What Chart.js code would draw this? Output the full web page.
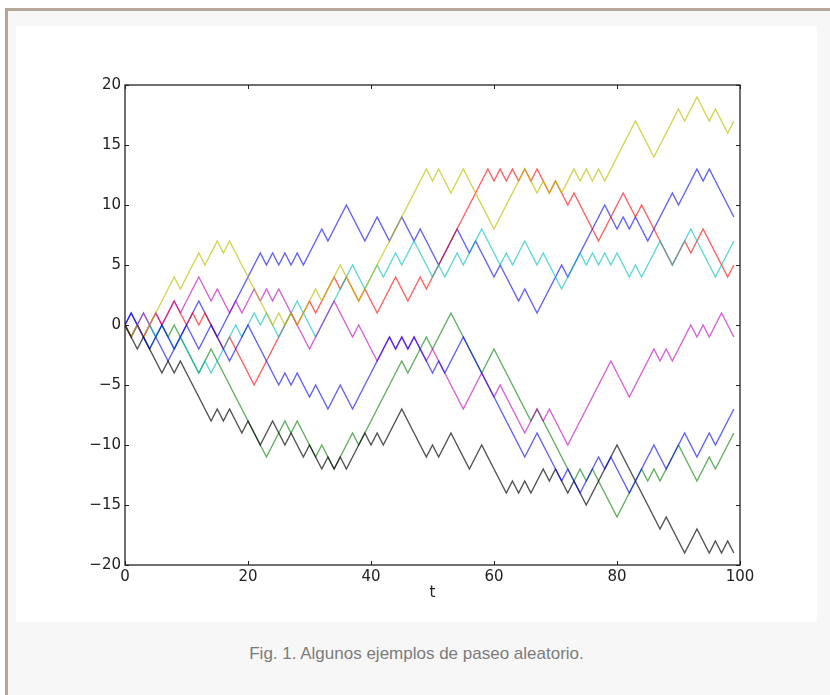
<!DOCTYPE html>
<html>
<head>
<meta charset="utf-8">
<script src="https://cdn.jsdelivr.net/npm/chart.js@4/dist/chart.umd.min.js"></script>
<style>
  html, body { margin: 0; padding: 0; background: #fff; }
  body { width: 830px; height: 695px; position: relative; overflow: hidden; }
  .frame {
    position: absolute; left: 5px; top: 8px; width: 840px; height: 700px;
    border-left: 3px solid #b4a798; border-top: 3px solid #b4a798;
    background: #f7f7f7;
  }
  .panel { position: absolute; left: 16px; top: 26px; width: 801px; height: 596px; background: #fff; }
  .caption {
    position: absolute; left: 16px; width: 801px; top: 644px;
    text-align: center; font: 17px "Liberation Sans", Arial, sans-serif; color: #7b7b7b;
  }
</style>
</head>
<body>
<div class="frame"></div>
<div class="panel"><canvas id="walks" width="801" height="596"></canvas></div>
<div class="caption">Fig. 1. Algunos ejemplos de paseo aleatorio.</div>
<script>
'use strict';

// time steps 0..99
const tValues = Array.from({ length: 100 }, (_, i) => i);

// walks (matplotlib colour cycle b g r c m y k b)
const walkBlue = [
  0,1,0,-1,0,-1,-2,-3,-2,-1, 0,1,2,1,0,-1,0,1,2,3,
  4,5,6,5,6,5,6,5,6,5, 6,7,8,7,8,9,10,9,8,7,
  8,9,8,7,8,9,8,7,8,7, 6,5,6,7,8,7,6,7,6,5,
  4,5,4,3,2,3,2,1,2,3, 4,5,4,5,6,7,8,9,10,9,
  8,9,8,9,8,7,8,9,10,11, 10,11,12,13,12,13,12,11,10,9];
const walkGreen = [
  0,-1,0,-1,-2,-1,0,-1,0,-1, -2,-3,-4,-3,-2,-3,-4,-5,-6,-7,
  -8,-9,-10,-11,-10,-9,-8,-9,-8,-9, -10,-11,-10,-11,-12,-11,-10,-9,-10,-9,
  -8,-7,-6,-5,-4,-3,-4,-3,-2,-1, -2,-1,0,1,0,-1,-2,-3,-4,-3,
  -2,-3,-4,-5,-6,-7,-8,-7,-8,-9, -10,-11,-12,-13,-12,-13,-12,-13,-14,-15,
  -16,-15,-14,-13,-12,-13,-12,-13,-12,-11, -10,-11,-12,-13,-12,-11,-12,-11,-10,-9];
const walkRed = [
  0,-1,0,-1,0,1,0,1,2,1, 0,1,0,1,0,-1,-2,-1,-2,-3,
  -4,-5,-4,-3,-2,-1,0,1,0,1, 2,1,2,3,4,3,4,3,2,3,
  2,1,2,3,4,3,2,3,4,3, 4,5,6,7,8,9,10,11,12,13,
  12,13,12,13,12,13,12,13,12,11, 12,11,10,11,10,9,8,7,8,9,
  10,11,10,9,10,9,8,7,6,5, 6,7,6,7,8,7,6,5,4,5];
const walkCyan = [
  0,-1,0,1,0,-1,0,-1,-2,-1, -2,-3,-4,-3,-4,-3,-2,-1,0,-1,
  0,1,0,1,0,-1,0,1,2,1, 0,-1,0,1,2,3,4,5,4,3,
  4,5,4,5,6,5,6,7,6,5, 4,5,4,5,6,5,6,7,8,7,
  6,5,6,5,6,7,6,5,6,5, 4,3,4,5,6,5,6,5,6,5,
  6,5,4,5,4,5,6,7,6,5, 6,7,8,7,6,5,4,5,6,7];
const walkMagenta = [
  0,-1,0,1,0,1,0,1,2,1, 2,3,4,3,2,3,2,1,2,1,
  2,3,2,3,2,3,2,1,0,-1, -2,-1,0,1,2,1,0,-1,0,-1,
  -2,-3,-2,-1,-2,-1,-2,-1,-2,-3, -2,-3,-4,-5,-6,-7,-6,-5,-4,-5,
  -6,-5,-6,-7,-8,-9,-8,-7,-8,-7, -8,-9,-10,-9,-8,-7,-6,-5,-4,-3,
  -4,-5,-6,-5,-4,-3,-2,-3,-2,-3, -2,-1,0,-1,0,-1,0,1,0,-1];
const walkYellow = [
  0,-1,0,-1,0,1,2,3,4,3, 4,5,6,5,6,7,6,7,6,5,
  4,3,2,1,0,1,0,1,0,1, 2,3,2,3,4,5,4,3,2,3,
  4,5,6,7,8,9,10,11,12,13, 12,13,12,11,12,13,12,11,10,9,
  8,9,10,11,12,13,12,11,12,11, 12,11,12,13,12,13,12,13,12,13,
  14,15,16,17,16,15,14,15,16,17, 18,17,18,19,18,17,18,17,16,17];
const walkBlack = [
  0,-1,-2,-1,-2,-3,-4,-3,-4,-3, -4,-5,-6,-7,-8,-7,-8,-7,-8,-9,
  -8,-9,-10,-9,-8,-9,-10,-9,-10,-11, -10,-11,-12,-11,-12,-11,-12,-11,-10,-9,
  -10,-9,-10,-9,-8,-7,-8,-9,-10,-11, -10,-11,-10,-9,-10,-11,-12,-11,-10,-11,
  -12,-13,-14,-13,-14,-13,-14,-13,-12,-13, -12,-13,-14,-13,-14,-15,-14,-13,-12,-11,
  -10,-11,-12,-13,-14,-15,-16,-17,-16,-17, -18,-19,-18,-17,-18,-19,-18,-19,-18,-19];
const walkBlue2 = [
  0,1,0,-1,-2,-1,0,-1,-2,-1, 0,-1,-2,-1,0,-1,-2,-3,-2,-1,
  0,-1,-2,-3,-4,-5,-4,-5,-4,-5, -6,-5,-6,-7,-6,-5,-6,-7,-6,-5,
  -4,-3,-2,-1,-2,-1,-2,-1,-2,-3, -4,-3,-4,-3,-2,-1,-2,-3,-4,-5,
  -6,-7,-8,-9,-10,-11,-10,-9,-10,-11, -12,-13,-12,-13,-14,-13,-12,-11,-12,-11,
  -12,-13,-14,-13,-12,-11,-10,-11,-12,-11, -10,-9,-10,-11,-10,-9,-10,-9,-8,-7];

const walks = [walkBlue, walkGreen, walkRed, walkCyan, walkMagenta, walkYellow, walkBlack, walkBlue2];
const walkColors = [
  'rgba(0,0,255,0.62)', 'rgba(0,128,0,0.62)', 'rgba(255,0,0,0.62)', 'rgba(0,191,191,0.62)',
  'rgba(191,0,191,0.62)', 'rgba(191,191,0,0.68)', 'rgba(0,0,0,0.68)', 'rgba(0,0,255,0.62)'];

const yTicks = [-20, -15, -10, -5, 0, 5, 10, 15, 20];
const xTicks = [0, 20, 40, 60, 80, 100];

const tickFont = { family: 'DejaVu Sans', size: 15 };

// matplotlib-style box with inward ticks on all four sides
const axesBox = {
  id: 'axesBox',
  afterDraw(chart) {
    const { ctx, chartArea: a, scales: { x, y } } = chart;
    ctx.save();
    ctx.strokeStyle = '#222';
    ctx.lineWidth = 1.3;
    ctx.strokeRect(a.left, a.top, a.right - a.left, a.bottom - a.top);
    ctx.lineWidth = 1;
    ctx.beginPath();
    xTicks.forEach(v => {
      const px = Math.round(x.getPixelForValue(v)) + 0.5;
      ctx.moveTo(px, a.bottom); ctx.lineTo(px, a.bottom - 4);
      ctx.moveTo(px, a.top); ctx.lineTo(px, a.top + 4);
    });
    yTicks.forEach(v => {
      const py = Math.round(y.getPixelForValue(v)) + 0.5;
      ctx.moveTo(a.left, py); ctx.lineTo(a.left + 4, py);
      ctx.moveTo(a.right, py); ctx.lineTo(a.right - 4, py);
    });
    ctx.stroke();
    ctx.restore();
  }
};

new Chart(document.getElementById('walks').getContext('2d'), {
  type: 'line',
  data: {
    labels: tValues,
    datasets: walks.map((w, i) => ({
      data: w,
      borderColor: walkColors[i],
      borderWidth: 1.4,
      pointRadius: 0,
      tension: 0,
      fill: false,
      order: walks.length - i,
    }))
  },
  options: {
    responsive: false,
    animation: false,
    devicePixelRatio: 1,
    layout: { padding: { left: 0, right: 77, top: 59, bottom: 0 } },
    plugins: { legend: { display: false }, tooltip: { enabled: false } },
    scales: {
      x: {
        type: 'linear', min: 0, max: 100,
        afterBuildTicks: s => { s.ticks = xTicks.map(v => ({ value: v })); },
        afterFit: s => { s.height = 57; },
        grid: { display: false, drawTicks: false }, border: { display: false },
        ticks: { font: tickFont, color: '#222', padding: 3, maxRotation: 0 },
        title: { display: true, text: 't', font: tickFont, color: '#222', padding: { top: 0, bottom: 20 } }
      },
      y: {
        min: -20, max: 20,
        afterBuildTicks: s => { s.ticks = yTicks.map(v => ({ value: v })); },
        afterFit: s => { s.width = 109; },
        grid: { display: false, drawTicks: false }, border: { display: false },
        ticks: {
          font: tickFont, color: '#222', padding: 4,
          callback: v => String(v).replace('-', '\u2212')
        }
      }
    }
  },
  plugins: [axesBox]
});
</script>
</body>
</html>
